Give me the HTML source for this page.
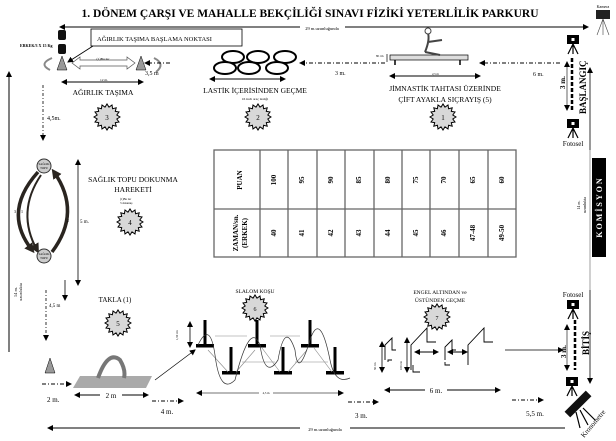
<!DOCTYPE html>
<html><head><meta charset="utf-8"><style>
html,body{margin:0;padding:0;background:#fff;}
svg{display:block;font-family:"Liberation Serif",serif;}
</style></head><body>
<svg width="616" height="441" viewBox="0 0 616 441" xmlns="http://www.w3.org/2000/svg">
<defs>
<marker id="ah" markerUnits="userSpaceOnUse" markerWidth="6" markerHeight="6" refX="5" refY="3" orient="auto"><path d="M0,0 L6,3 L0,6 z" fill="#000"/></marker>
<marker id="ahs" markerUnits="userSpaceOnUse" markerWidth="6" markerHeight="6" refX="1" refY="3" orient="auto"><path d="M6,0 L0,3 L6,6 z" fill="#000"/></marker>
<marker id="ahb" markerUnits="userSpaceOnUse" markerWidth="10" markerHeight="10" refX="6" refY="5" orient="auto"><path d="M0,0 L10,5 L0,10 z" fill="#2a2520"/></marker>
<g id="star"><polygon points="13,0 9.8,2 12,5 8.3,5.6 9.2,9.2 5.6,8.3 5,12 2,9.8 0,13 -2,9.8 -5,12 -5.6,8.3 -9.2,9.2 -8.3,5.6 -12,5 -9.8,2 -13,0 -9.8,-2 -12,-5 -8.3,-5.6 -9.2,-9.2 -5.6,-8.3 -5,-12 -2,-9.8 0,-13 2,-9.8 5,-12 5.6,-8.3 9.2,-9.2 8.3,-5.6 12,-5 9.8,-2" fill="#d8d8d8" stroke="#000" stroke-width="1"/></g>
<g id="cam"><rect x="-6" y="-5" width="12" height="9" fill="#000"/><rect x="-1.5" y="-2" width="3" height="3" fill="#fff"/><path d="M0,4 L-5,14 M0,4 L0,14 M0,4 L5,14" stroke="#000" stroke-width="1.2"/></g>
<g id="tee"><rect x="-1.5" y="0" width="3" height="26" fill="#000"/><rect x="-9" y="24" width="18" height="3.5" fill="#000"/></g>
</defs>

<text x="310" y="17" text-anchor="middle" font-size="11.5" font-weight="bold">1. DÖNEM ÇARŞI VE MAHALLE BEKÇİLİĞİ SINAVI FİZİKİ YETERLİLİK PARKURU</text>

<line x1="60" y1="27" x2="588" y2="27" stroke="#000" stroke-width="1" marker-start="url(#ahs)" marker-end="url(#ah)"/>
<rect x="300" y="23" width="45" height="8" fill="#fff"/>
<text x="322" y="30" text-anchor="middle" font-size="4.5">29 m.uzunluğunda</text>

<rect x="58" y="30" width="8" height="10" rx="2" fill="#111"/><rect x="58" y="44" width="8" height="10" rx="2" fill="#111"/>
<text x="20" y="47" font-size="4" font-weight="bold">ERKEK/3 X 15 Kg</text>
<rect x="91" y="29" width="151" height="17" fill="#fff" stroke="#000" stroke-width="0.8"/>
<text x="97" y="41" font-size="6.5">AĞIRLIK TAŞIMA BAŞLAMA NOKTASI</text>
<line x1="93" y1="46" x2="68" y2="62" stroke="#000" stroke-width="0.8" marker-end="url(#ah)"/>
<polygon points="62,56 57,70 67,70" fill="#999" stroke="#000" stroke-width="0.5"/>
<polygon points="141,56 136,70 146,70" fill="#999" stroke="#000" stroke-width="0.5"/>
<path d="M72,63 L80,57 L80,60 L127,60 L127,57 L135,63 L127,69 L127,66 L80,66 L80,69 Z" fill="#fff" stroke="#555" stroke-width="0.7"/>
<text x="103" y="60" font-size="3.5" text-anchor="middle">(1)Bu tur</text>
<path d="M52,58 Q38,64 50,70" fill="none" stroke="#888" stroke-width="2"/>
<path d="M154,58 Q166,64 156,72" fill="none" stroke="#888" stroke-width="2"/>
<line x1="62" y1="82" x2="143" y2="82" stroke="#000" marker-start="url(#ahs)" marker-end="url(#ah)"/>
<text x="100" y="81" font-size="3.5">12 m.</text>
<text x="103" y="95" font-size="7.5" text-anchor="middle">AĞIRLIK TAŞIMA</text>
<use href="#star" x="107" y="117"/><text x="107" y="120" font-size="7" text-anchor="middle">3</text>
<line x1="43" y1="85" x2="43" y2="140" stroke="#000" stroke-dasharray="3,2,1,2" stroke-width="0.8" marker-end="url(#ah)"/>
<text x="47" y="120" font-size="6">4,5m.</text>
<line x1="9" y1="352" x2="9" y2="72" stroke="#000" stroke-width="1" marker-end="url(#ah)"/>

<g fill="#fff" stroke="#000" stroke-width="2">
<ellipse cx="233" cy="57" rx="11" ry="6"/><ellipse cx="258" cy="57" rx="11" ry="6"/><ellipse cx="285" cy="57" rx="11" ry="6"/>
<ellipse cx="225" cy="68" rx="11" ry="6"/><ellipse cx="249" cy="68" rx="11" ry="6"/><ellipse cx="277" cy="68" rx="11" ry="6"/>
</g>
<line x1="170" y1="63" x2="145" y2="63" stroke="#000" stroke-dasharray="4,2,1,2" marker-end="url(#ah)"/>
<text x="145" y="75" font-size="6">3,5 m</text>
<line x1="210" y1="79" x2="285" y2="79" stroke="#000" marker-start="url(#ahs)" marker-end="url(#ah)"/>
<text x="255" y="93" font-size="7.5" text-anchor="middle">LASTİK İÇERİSİNDEN GEÇME</text>
<text x="255" y="100" font-size="3.5" text-anchor="middle">16 inch araç lastiği</text>
<use href="#star" x="258" y="117"/><text x="258" y="120" font-size="7" text-anchor="middle">2</text>
<line x1="385" y1="63" x2="300" y2="63" stroke="#000" stroke-dasharray="4,2,1,2" marker-end="url(#ah)"/>
<text x="335" y="75" font-size="6">3 m.</text>

<rect x="390" y="55" width="78" height="5" fill="#ddd" stroke="#000" stroke-width="0.7"/>
<path d="M395,60 L395,65 M460,60 L460,65" stroke="#000" stroke-width="1.5"/>
<line x1="387" y1="54" x2="387" y2="62" stroke="#000" stroke-width="0.7"/>
<text x="376" y="57" font-size="3">80 cm</text>
<path d="M425,52 Q430,40 428,33 M428,42 L442,40 M425,52 L440,55" stroke="#444" stroke-width="2" fill="none"/>
<circle cx="428" cy="31" r="3" fill="#fff" stroke="#444"/>
<line x1="560" y1="63" x2="480" y2="63" stroke="#000" stroke-dasharray="4,2,1,2" marker-end="url(#ah)"/>
<text x="533" y="76" font-size="6">6 m.</text>
<line x1="390" y1="76" x2="480" y2="76" stroke="#000" marker-start="url(#ahs)" marker-end="url(#ah)"/>
<text x="432" y="75" font-size="3">2,5 m</text>
<text x="445" y="91" font-size="7.5" text-anchor="middle">JİMNASTİK TAHTASI ÜZERİNDE</text>
<text x="445" y="102" font-size="7.5" text-anchor="middle">ÇİFT AYAKLA SIÇRAYIŞ (5)</text>
<use href="#star" x="443" y="117"/><text x="443" y="120" font-size="7" text-anchor="middle">1</text>

<text x="603" y="8" font-size="4" text-anchor="middle">Kamera</text>
<rect x="596" y="10" width="14" height="9" fill="#222"/><path d="M603,19 L597,35 M603,19 L603,35 M603,19 L609,35" stroke="#444" stroke-width="0.6"/>
<use href="#cam" x="573" y="40"/>
<line x1="572" y1="58" x2="572" y2="110" stroke="#000" stroke-width="2.5" stroke-dasharray="4,2"/>
<line x1="567" y1="62" x2="567" y2="110" stroke="#000" stroke-width="0.6" marker-start="url(#ahs)" marker-end="url(#ah)"/>
<text x="565" y="89" font-size="7" font-weight="bold" transform="rotate(-90 565 89)">3 m.</text>
<text x="586" y="114" font-size="9" font-weight="bold" transform="rotate(-90 586 114)">BAŞLANGIÇ</text>
<use href="#cam" x="573" y="124"/>
<text x="573" y="146" font-size="7" text-anchor="middle">Fotosel</text>
<line x1="590" y1="150" x2="590" y2="68" stroke="#000" stroke-width="0.8" marker-end="url(#ah)"/>
<line x1="590" y1="150" x2="590" y2="290" stroke="#888" stroke-width="0.8"/>
<text x="580" y="205" font-size="4" text-anchor="middle" transform="rotate(-90 580 205)">14 m.</text>
<text x="586" y="205" font-size="4" text-anchor="middle" transform="rotate(-90 586 205)">uzunlukta</text>
<rect x="592" y="158" width="14" height="99" fill="#000"/>
<text x="602" y="207" font-size="8" font-weight="bold" fill="#fff" text-anchor="middle" letter-spacing="2" transform="rotate(-90 602 207)">KOMİSYON</text>

<g stroke="#666" stroke-width="1.3" fill="none">
<rect x="214" y="150" width="302" height="107"/>
<line x1="214" y1="209" x2="516" y2="209"/>
<line x1="260" y1="150" x2="260" y2="257"/><line x1="288" y1="150" x2="288" y2="257"/><line x1="317" y1="150" x2="317" y2="257"/><line x1="345" y1="150" x2="345" y2="257"/><line x1="374" y1="150" x2="374" y2="257"/><line x1="402" y1="150" x2="402" y2="257"/><line x1="430" y1="150" x2="430" y2="257"/><line x1="459" y1="150" x2="459" y2="257"/><line x1="488" y1="150" x2="488" y2="257"/>
</g>
<g font-size="7" font-weight="bold" text-anchor="middle">
<text transform="translate(240,180) rotate(-90)" y="2">PUAN</text>
<text transform="translate(236,233) rotate(-90)" y="2">ZAMAN/sn.</text>
<text transform="translate(245,233) rotate(-90)" y="2">(ERKEK)</text>
<text transform="translate(274,180) rotate(-90)" y="2">100</text>
<text transform="translate(302,180) rotate(-90)" y="2">95</text>
<text transform="translate(331,180) rotate(-90)" y="2">90</text>
<text transform="translate(359,180) rotate(-90)" y="2">85</text>
<text transform="translate(388,180) rotate(-90)" y="2">80</text>
<text transform="translate(416,180) rotate(-90)" y="2">75</text>
<text transform="translate(444,180) rotate(-90)" y="2">70</text>
<text transform="translate(473,180) rotate(-90)" y="2">65</text>
<text transform="translate(502,180) rotate(-90)" y="2">60</text>
<text transform="translate(274,233) rotate(-90)" y="2">40</text>
<text transform="translate(302,233) rotate(-90)" y="2">41</text>
<text transform="translate(331,233) rotate(-90)" y="2">42</text>
<text transform="translate(359,233) rotate(-90)" y="2">43</text>
<text transform="translate(388,233) rotate(-90)" y="2">44</text>
<text transform="translate(416,233) rotate(-90)" y="2">45</text>
<text transform="translate(444,233) rotate(-90)" y="2">46</text>
<text transform="translate(473,233) rotate(-90)" y="2">47-48</text>
<text transform="translate(502,233) rotate(-90)" y="2">49-50</text>
</g>

<path d="M38,172 Q2,212 32,250" fill="none" stroke="#2a2520" stroke-width="3.5" marker-end="url(#ahb)"/>
<path d="M41,175 Q16,212 37,250" fill="none" stroke="#2a2520" stroke-width="2" marker-end="url(#ahb)"/>
<path d="M52,252 Q82,212 54,172" fill="none" stroke="#2a2520" stroke-width="3.5" marker-end="url(#ahb)"/>
<circle cx="44" cy="166" r="7" fill="#ccc" stroke="#333"/><text x="44" y="165" font-size="3" text-anchor="middle">SAĞLIK</text><text x="44" y="169" font-size="3" text-anchor="middle">TOPU</text>
<circle cx="44" cy="256" r="7" fill="#ccc" stroke="#333"/><text x="44" y="255" font-size="3" text-anchor="middle">SAĞLIK</text><text x="44" y="259" font-size="3" text-anchor="middle">TOPU</text>
<text x="14" y="213" font-size="4">3</text><text x="21" y="213" font-size="4">1</text><text x="67" y="222" font-size="4">2</text>
<line x1="78" y1="285" x2="78" y2="160" stroke="#000" stroke-width="0.8" marker-start="url(#ahs)" marker-end="url(#ah)"/>
<text x="80" y="223" font-size="5">5 m.</text>
<text x="133" y="182" font-size="7.5" text-anchor="middle">SAĞLIK TOPU DOKUNMA</text>
<text x="133" y="192" font-size="7.5" text-anchor="middle">HAREKETİ</text>
<text x="120" y="200" font-size="3">(1)Bu tur</text><text x="120" y="204" font-size="3">3 dokunuş</text>
<use href="#star" x="130" y="222"/><text x="130" y="225" font-size="7" text-anchor="middle">4</text>
<text x="17" y="292" font-size="4.5" text-anchor="middle" transform="rotate(-90 17 292)">14 m.</text>
<text x="22" y="292" font-size="4.5" text-anchor="middle" transform="rotate(-90 22 292)">uzunlukta</text>

<line x1="46" y1="290" x2="46" y2="340" stroke="#000" stroke-dasharray="3,2,1,2" stroke-width="0.8" marker-end="url(#ah)"/>
<line x1="65" y1="280" x2="65" y2="300" stroke="#000" stroke-width="0.8" marker-end="url(#ah)"/>
<text x="49" y="307" font-size="5">4,5 m</text>
<text x="115" y="302" font-size="7" text-anchor="middle">TAKLA (1)</text>
<use href="#star" x="118" y="323"/><text x="118" y="326" font-size="7" text-anchor="middle">5</text>
<polygon points="50,358 45,373 55,373" fill="#999" stroke="#000" stroke-width="0.5"/>
<polygon points="80,376 152,376 146,388 73,388" fill="#aaa"/>
<path d="M98,378 Q108,350 120,360 Q126,370 124,378" fill="none" stroke="#777" stroke-width="4"/>
<line x1="42" y1="384" x2="71" y2="384" stroke="#000" stroke-dasharray="4,2,1,2" marker-end="url(#ah)"/>
<text x="47" y="402" font-size="7">2 m.</text>
<line x1="75" y1="395" x2="148" y2="395" stroke="#000" marker-start="url(#ahs)" marker-end="url(#ah)"/>
<rect x="100" y="390" width="22" height="10" fill="#fff"/><text x="111" y="398" font-size="7" text-anchor="middle">2 m</text>
<line x1="152" y1="401" x2="183" y2="401" stroke="#000" stroke-dasharray="4,2,1,2" marker-end="url(#ah)"/>
<text x="167" y="414" font-size="7" text-anchor="middle">4 m.</text>
<line x1="155" y1="380" x2="195" y2="350" stroke="#000" stroke-width="0.7" marker-end="url(#ah)"/>

<text x="255" y="293" font-size="5.5" text-anchor="middle">SLALOM KOŞU</text>
<use href="#star" x="255" y="308"/><text x="255" y="311" font-size="6" text-anchor="middle">6</text>
<line x1="190" y1="322" x2="190" y2="347" stroke="#000" stroke-width="0.8" marker-start="url(#ahs)" marker-end="url(#ah)"/>
<text x="178" y="340" font-size="3" transform="rotate(-90 178 340)">1,50 cm</text>
<use href="#tee" x="205" y="320"/><use href="#tee" x="231" y="347"/><use href="#tee" x="257" y="320"/><use href="#tee" x="283" y="347"/><use href="#tee" x="310" y="320"/><use href="#tee" x="335" y="347"/>
<g stroke="#888" stroke-width="0.6">
<line x1="215" y1="336" x2="247" y2="336"/><line x1="270" y1="336" x2="300" y2="336"/><line x1="242" y1="362" x2="275" y2="362"/><line x1="295" y1="362" x2="328" y2="362"/>
<line x1="208" y1="350" x2="228" y2="372"/><line x1="236" y1="372" x2="255" y2="350"/><line x1="262" y1="348" x2="280" y2="372"/><line x1="288" y1="372" x2="307" y2="350"/><line x1="314" y1="348" x2="332" y2="372"/>
</g>
<path d="M198,345 Q210,320 215,355 Q220,395 235,380 Q250,320 260,345 Q265,380 278,360 Q285,320 295,350 Q298,380 310,340 Q320,310 330,360 Q335,385 350,378" fill="none" stroke="#333" stroke-width="0.7"/>
<line x1="197" y1="393" x2="343" y2="393" stroke="#444" stroke-width="0.7" marker-start="url(#ahs)" marker-end="url(#ah)"/>
<rect x="259" y="389" width="14" height="7" fill="#fff"/><text x="266" y="394" font-size="3" text-anchor="middle">4,5 m</text>
<line x1="348" y1="402" x2="378" y2="402" stroke="#000" stroke-dasharray="4,2,1,2" marker-end="url(#ah)"/>
<text x="355" y="418" font-size="7">3 m.</text>

<text x="440" y="294" font-size="5.5" text-anchor="middle">ENGEL ALTINDAN ve</text>
<text x="440" y="302" font-size="5.5" text-anchor="middle">ÜSTÜNDEN GEÇME</text>
<use href="#star" x="437" y="317"/><text x="437" y="320" font-size="6" text-anchor="middle">7</text>
<g fill="none" stroke="#000" stroke-width="0.9">
<path d="M385,360 L385,345 L392,338 L392,350 L396,350"/><path d="M388,362 L388,360 L392,360"/>
<path d="M411,370 L411,345 L427,328 L427,342 L436,342"/><path d="M413,365 L413,372 L420,372"/>
<path d="M445,360 L445,347 L452,340 L452,350 L456,350"/><path d="M445,362 L445,365 L450,365"/>
<path d="M468,365 L468,345 L484,328 L484,342 L493,342"/>
</g>
<line x1="382" y1="342" x2="382" y2="372" stroke="#000" stroke-width="0.8" marker-start="url(#ahs)" marker-end="url(#ah)"/>
<line x1="407" y1="338" x2="407" y2="372" stroke="#000" stroke-width="0.8" marker-start="url(#ahs)" marker-end="url(#ah)"/>
<text x="376" y="370" font-size="3" transform="rotate(-90 376 370)">50 cm</text>
<text x="402" y="370" font-size="3" transform="rotate(-90 402 370)">100 cm</text>
<line x1="415" y1="352" x2="438" y2="352" stroke="#000" marker-start="url(#ahs)" marker-end="url(#ah)"/>
<line x1="448" y1="352" x2="467" y2="352" stroke="#000" marker-start="url(#ahs)" marker-end="url(#ah)"/>
<line x1="385" y1="390" x2="500" y2="390" stroke="#000" marker-start="url(#ahs)" marker-end="url(#ah)"/>
<rect x="425" y="384" width="22" height="10" fill="#fff"/><text x="436" y="393" font-size="7" text-anchor="middle">6 m.</text>
<line x1="505" y1="350" x2="563" y2="350" stroke="#000" stroke-width="0.8" marker-end="url(#ah)"/>

<text x="573" y="297" font-size="7" text-anchor="middle">Fotosel</text>
<use href="#cam" x="573" y="305"/>
<line x1="575" y1="320" x2="575" y2="370" stroke="#000" stroke-width="2.5" stroke-dasharray="4,2"/>
<line x1="567" y1="325" x2="567" y2="370" stroke="#000" stroke-width="0.6" marker-start="url(#ahs)" marker-end="url(#ah)"/>
<text x="566" y="358" font-size="7" font-weight="bold" transform="rotate(-90 566 358)">3 m.</text>
<text x="589" y="355" font-size="9" font-weight="bold" transform="rotate(-90 589 355)">BİTİŞ</text>
<line x1="590" y1="290" x2="590" y2="383" stroke="#000" stroke-width="0.8" marker-end="url(#ah)"/>
<use href="#cam" x="572" y="382"/>
<line x1="512" y1="400" x2="543" y2="400" stroke="#000" stroke-dasharray="4,2,1,2" marker-end="url(#ah)"/>
<text x="535" y="416" font-size="7" text-anchor="middle">5,5 m.</text>
<rect x="563" y="400" width="30" height="8" fill="#111" transform="rotate(-45 578 404)"/>
<path d="M580,410 L588,425 M576,412 L580,428 M583,408 L595,420" stroke="#000" stroke-width="1.2"/>
<text x="584" y="438" font-size="7" transform="rotate(-50 584 438)">Kronometre</text>
<line x1="565" y1="428" x2="48" y2="428" stroke="#000" stroke-width="0.9" marker-end="url(#ah)"/>
<rect x="300" y="424" width="50" height="8" fill="#fff"/><text x="325" y="431" font-size="4.5" text-anchor="middle">29 m.uzunluğunda</text>
</svg>
</body></html>
